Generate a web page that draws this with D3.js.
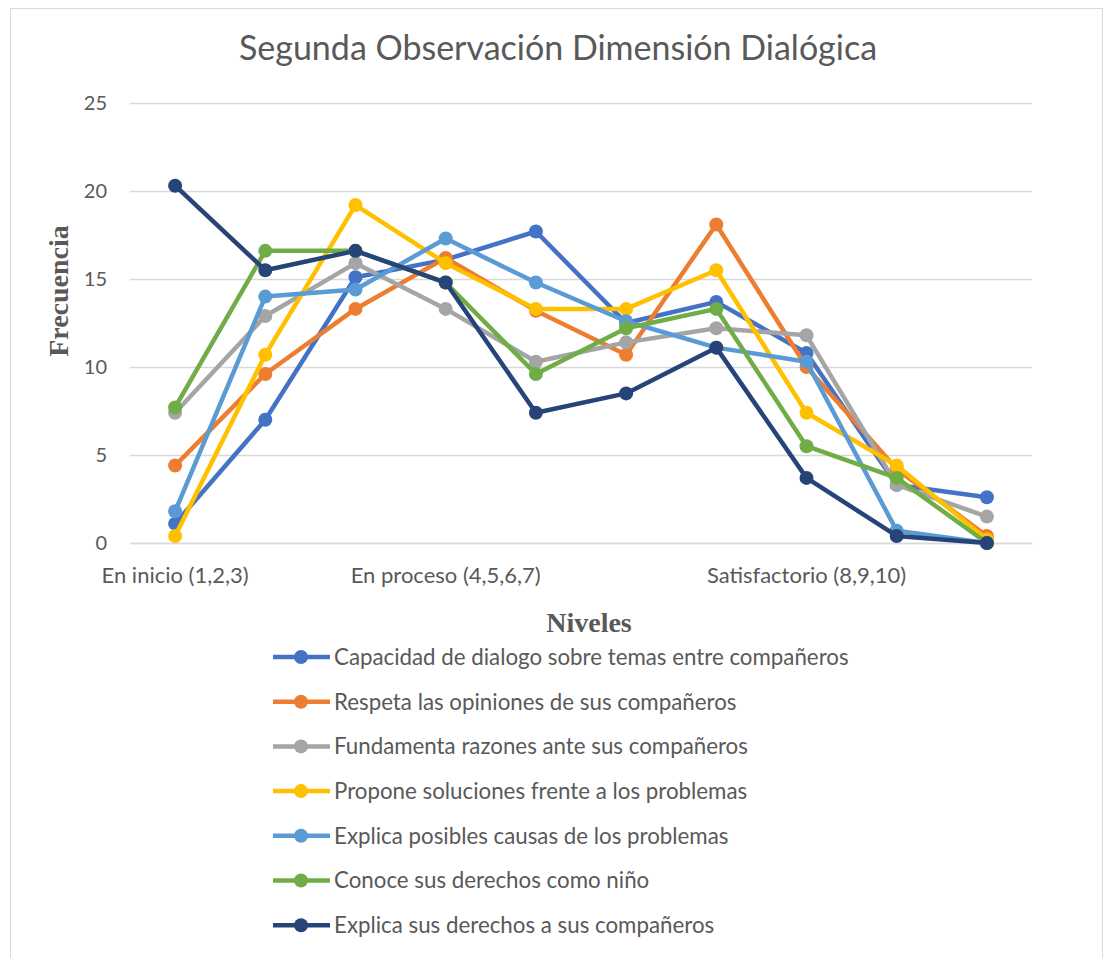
<!DOCTYPE html>
<html>
<head>
<meta charset="utf-8">
<title>Segunda Observación Dimensión Dialógica</title>
<script src="https://cdn.jsdelivr.net/npm/d3@7"></script>
<style>
  body { margin: 0; background: #fff; }
  .tick text, .lbl { font-family: Lato, "Open Sans", sans-serif; fill: #595959; }
  .axtitle { font-family: "Liberation Serif", "Times New Roman", serif; font-weight: bold; fill: #595959; font-size: 28px; }
</style>
</head>
<body>
<div id="chart"></div>
<script>
// categorias (solo algunas tienen etiqueta)
var categories = ["c1","c2","c3","c4","c5","c6","c7","c8","c9","c10"];
var catLabels  = ["En inicio (1,2,3)","","","En proceso (4,5,6,7)","","","","Satisfactorio (8,9,10)","",""];
var yTicks = [0,5,10,15,20,25];

var seriesNames = [
  "Capacidad de dialogo sobre temas entre compañeros",
  "Respeta las opiniones de sus compañeros",
  "Fundamenta razones ante sus compañeros",
  "Propone soluciones frente a los problemas",
  "Explica posibles causas de los problemas",
  "Conoce sus derechos como niño",
  "Explica sus derechos a sus compañeros"
];
var capacidad   = [1.1, 7.0, 15.1, 16.1, 17.7, 12.5, 13.7, 10.8, 3.3, 2.6];
var respeta     = [4.4, 9.6, 13.3, 16.2, 13.2, 10.7, 18.1, 10.0, 4.2, 0.4];
var fundamenta  = [7.4, 12.9, 15.9, 13.3, 10.3, 11.4, 12.2, 11.8, 3.3, 1.5];
var propone     = [0.4, 10.7, 19.2, 15.9, 13.3, 13.3, 15.5, 7.4, 4.4, 0.2];
var explicaCaus = [1.8, 14.0, 14.4, 17.3, 14.8, 12.6, 11.1, 10.3, 0.7, 0.0];
var conoce      = [7.7, 16.6, 16.6, 14.8, 9.6, 12.2, 13.3, 5.5, 3.7, 0.0];
var explicaDer  = [20.3, 15.5, 16.6, 14.8, 7.4, 8.5, 11.1, 3.7, 0.4, 0.0];
var colors = ["#4472C4","#ED7D31","#A5A5A5","#FFC000","#5B9BD5","#70AD47","#264478"];

var allSeries = [capacidad, respeta, fundamenta, propone, explicaCaus, conoce, explicaDer];

var width = 1109, height = 958;
var plot = {left: 130, right: 1032, top: 103, bottom: 543};

var svg = d3.select("#chart").append("svg")
  .attr("width", width)
  .attr("height", height);

// borde del grafico
svg.append("rect")
  .attr("x", 10.5).attr("y", 8.5)
  .attr("width", 1092).attr("height", 960)
  .attr("fill", "#fff")
  .attr("stroke", "#d9d9d9");

var x = d3.scaleBand().domain(categories).range([plot.left, plot.right]);
var y = d3.scaleLinear().domain([0, 25]).range([plot.bottom, plot.top]);

// grilla
var yAxis = d3.axisLeft(y).tickValues(yTicks)
  .tickSize(-(plot.right - plot.left)).tickPadding(23);
var gy = svg.append("g")
  .attr("transform", "translate(" + plot.left + ",0)")
  .call(yAxis);
gy.select(".domain").remove();
gy.selectAll(".tick line").attr("stroke", "#d9d9d9").attr("stroke-width", 1.5);
gy.selectAll(".tick text").attr("font-size", 20);

var xAxis = d3.axisBottom(x).tickSize(0).tickPadding(24)
  .tickFormat(function(d, i){ return catLabels[i]; });
var gx = svg.append("g")
  .attr("transform", "translate(0," + plot.bottom + ")")
  .call(xAxis);
gx.select(".domain").attr("stroke", "#d9d9d9").attr("stroke-width", 1.5);
gx.selectAll(".tick text").attr("font-size", 22);

// titulo
svg.append("text")
  .attr("class", "lbl")
  .attr("x", 558).attr("y", 60)
  .attr("text-anchor", "middle")
  .attr("font-size", 34)
  .text("Segunda Observación Dimensión Dialógica");

svg.append("text")
  .attr("class", "axtitle")
  .attr("transform", "translate(68,291) rotate(-90)")
  .attr("text-anchor", "middle")
  .text("Frecuencia");

svg.append("text")
  .attr("class", "axtitle")
  .attr("x", 589).attr("y", 632)
  .attr("text-anchor", "middle")
  .text("Niveles");

var line = d3.line()
  .x(function(d, i){ return x(categories[i]) + x.bandwidth() / 2; })
  .y(function(d){ return y(d); });

var sg = svg.selectAll(".serie")
  .data(allSeries)
  .enter()
  .append("g")
  .attr("class", "serie");

sg.append("path")
  .attr("d", function(d){ return line(d); })
  .attr("fill", "none")
  .attr("stroke", function(d, i){ return colors[i]; })
  .attr("stroke-width", 4.5)
  .attr("stroke-linejoin", "round");

sg.each(function(d, si){
  d3.select(this).selectAll("circle")
    .data(d)
    .enter()
    .append("circle")
    .attr("cx", function(v, i){ return x(categories[i]) + x.bandwidth() / 2; })
    .attr("cy", function(v){ return y(v); })
    .attr("r", 7)
    .attr("fill", colors[si]);
});

// leyenda
var leg = svg.selectAll(".leg")
  .data(seriesNames)
  .enter()
  .append("g")
  .attr("class", "leg")
  .attr("transform", function(d, i){ return "translate(273," + (657 + i * 44.7) + ")"; });

leg.append("line")
  .attr("x1", 0).attr("x2", 57)
  .attr("stroke", function(d, i){ return colors[i]; })
  .attr("stroke-width", 4.5);
leg.append("circle")
  .attr("cx", 28).attr("r", 7)
  .attr("fill", function(d, i){ return colors[i]; });
leg.append("text")
  .attr("class", "lbl")
  .attr("x", 61).attr("dy", "0.35em")
  .attr("font-size", 22.3)
  .text(function(d){ return d; });
</script>
</body>
</html>
